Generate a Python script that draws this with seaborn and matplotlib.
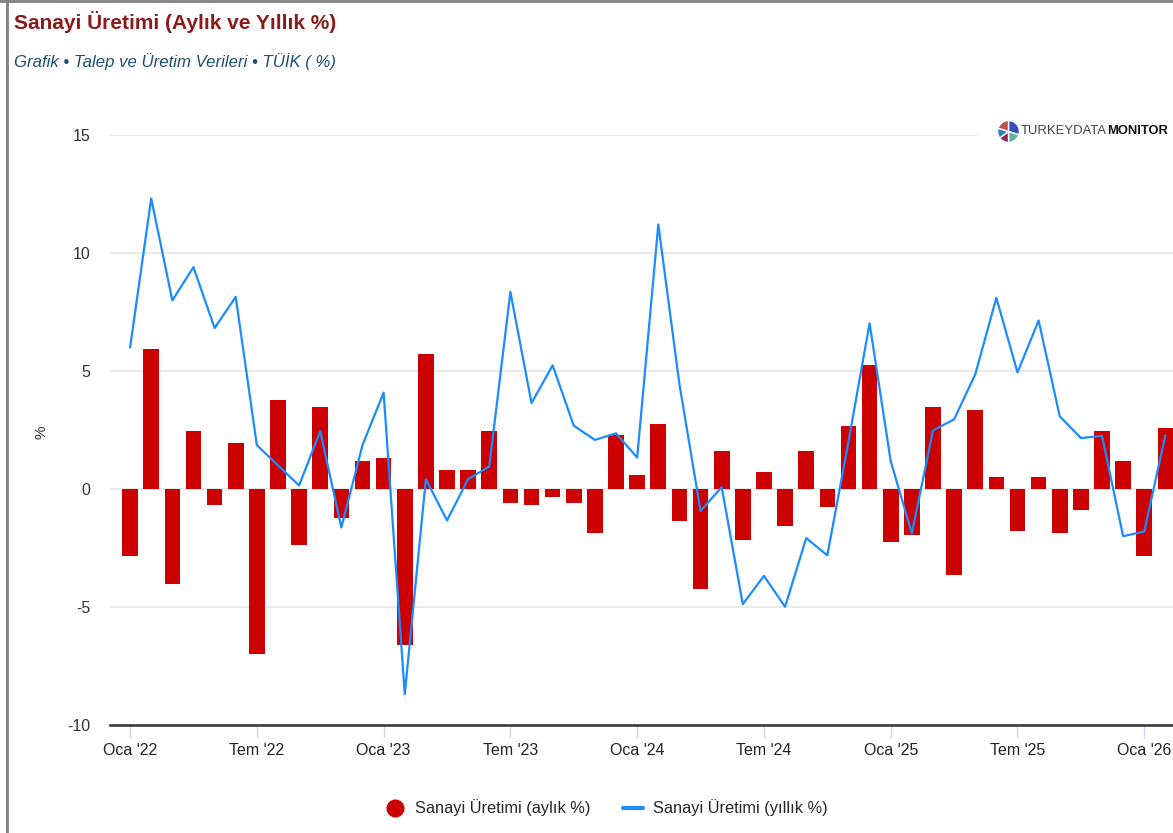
import matplotlib
matplotlib.use("Agg")
import matplotlib.pyplot as plt
import seaborn as sns
import numpy as np
import pandas as pd
from matplotlib.lines import Line2D
from matplotlib.patches import Rectangle

# ---- data ----
months = ["Oca '22", "Şub '22", "Mar '22", "Nis '22", "May '22", "Haz '22",
          "Tem '22", "Ağu '22", "Eyl '22", "Eki '22", "Kas '22", "Ara '22",
          "Oca '23", "Şub '23", "Mar '23", "Nis '23", "May '23", "Haz '23",
          "Tem '23", "Ağu '23", "Eyl '23", "Eki '23", "Kas '23", "Ara '23",
          "Oca '24", "Şub '24", "Mar '24", "Nis '24", "May '24", "Haz '24",
          "Tem '24", "Ağu '24", "Eyl '24", "Eki '24", "Kas '24", "Ara '24",
          "Oca '25", "Şub '25", "Mar '25", "Nis '25", "May '25", "Haz '25",
          "Tem '25", "Ağu '25", "Eyl '25", "Eki '25", "Kas '25", "Ara '25",
          "Oca '26", "Şub '26"]
monthly = [-2.83, 5.94, -4.04, 2.45, -0.68, 1.93, -7.0, 3.78, -2.38, 3.48, -1.21, 1.18,
           1.33, -6.62, 5.72, 0.82, 0.82, 2.45, -0.6, -0.68, -0.32, -0.6, -1.88, 2.28,
           0.58, 2.75, -1.35, -4.24, 1.61, -2.18, 0.73, -1.55, 1.61, -0.75, 2.68, 5.27,
           -2.25, -1.96, 3.48, -3.66, 3.33, 0.5, -1.8, 0.5, -1.88, -0.9, 2.45, 1.18,
           -2.83, 2.6]
yearly = [5.99, 12.31, 7.99, 9.4, 6.82, 8.14, 1.86, 1.0, 0.15, 2.45, -1.63, 1.86,
          4.08, -8.7, 0.42, -1.33, 0.42, 0.95, 8.35, 3.64, 5.24, 2.68, 2.08, 2.36,
          1.33, 11.21, 4.44, -0.93, 0.08, -4.88, -3.68, -4.99, -2.08, -2.81, 2.0, 7.02,
          1.18, -1.88, 2.48, 2.95, 4.86, 8.1, 4.94, 7.14, 3.08, 2.16, 2.25, -2.0,
          -1.8, 2.28]
tick_pos = [0, 6, 12, 18, 24, 30, 36, 42, 48]
tick_labels = ["Oca '22", "Tem '22", "Oca '23", "Tem '23", "Oca '24",
               "Tem '24", "Oca '25", "Tem '25", "Oca '26"]
y_ticks = [-10, -5, 0, 5, 10, 15]
series_names = ["Sanayi Üretimi (aylık %)", "Sanayi Üretimi (yıllık %)"]

df = pd.DataFrame({"idx": np.arange(len(months)), "ay": months,
                   "aylik": monthly, "yillik": yearly})

RED = "#cc0000"
BLUE = "#1a8cff"

sns.set_theme(style="white")
plt.rcParams["font.family"] = ["Liberation Sans", "DejaVu Sans"]

fig = plt.figure(figsize=(11.73, 8.33), dpi=100)
ax = fig.add_axes([110 / 1173, 1 - 725 / 833, 1 - 110 / 1173, (725 - 135) / 833])

sns.barplot(data=df, x="idx", y="aylik", native_scale=True, width=0.74,
            color=RED, saturation=1, linewidth=0, ax=ax, zorder=2)
sns.lineplot(data=df, x="idx", y="yillik", color=BLUE, linewidth=1.6, ax=ax,
             zorder=3)

ax.set_xlim(-0.95, 49.36)
ax.set_ylim(-10, 15)
ax.set_yticks(y_ticks)
ax.set_yticklabels([str(v) for v in y_ticks], fontsize=11.5, color="#333333")
ax.set_xticks(tick_pos)
ax.set_xticklabels(tick_labels, fontsize=11.5, color="#222222")
ax.tick_params(axis="x", length=9, width=1, color="#ccd6eb", pad=4, direction="out",
               bottom=True)
ax.tick_params(axis="y", length=0, pad=14)

for v in y_ticks[1:]:
    ax.axhline(v, color="#e6e6e6", linewidth=1.2, zorder=1)
for s in ["top", "right", "left"]:
    ax.spines[s].set_visible(False)
ax.spines["bottom"].set_color("#333333")
ax.spines["bottom"].set_linewidth(1.8)
ax.set_xlabel("")
ax.set_ylabel("")
fig.text(42 / 1173, 1 - 432 / 833, "%", rotation=90, fontsize=11, color="#333333",
         ha="center", va="center")

# Titles
fig.text(14 / 1173, 1 - 22 / 833, "Sanayi Üretimi (Aylık ve Yıllık %)",
         fontsize=15, fontweight="bold", color="#8b1a1a", va="center", ha="left")
fig.text(14 / 1173, 1 - 62 / 833, "Grafik • Talep ve Üretim Verileri • TÜİK ( %)",
         fontsize=12.1, style="italic", color="#1d4f73", va="center", ha="left")

# Logo (white backing, pie icon, wordmark)
fig.add_artist(Rectangle((977 / 1173, 1 - 147 / 833), 196 / 1173, 32 / 833,
                         transform=fig.transFigure, facecolor="white",
                         edgecolor="none", zorder=5))
pax = fig.add_axes([997 / 1173, 1 - 143 / 833, 23 / 1173, 23 / 833], zorder=6)
pax.pie([30, 20, 15, 15, 20], colors=["#3b4cc0", "#5fb3a3", "#8a2a5a", "#2f7fb8", "#c0504d"],
        startangle=90, counterclock=False, radius=1)
pax.set_xlim(-1.05, 1.05)
pax.set_ylim(-1.05, 1.05)
pax.set_aspect("equal")
pax.axis("off")
t1 = fig.text(1021 / 1173, 1 - 131 / 833, "TURKEYDATA", fontsize=9.4, color="#444444",
              va="center", ha="left", zorder=7)
fig.add_artist(matplotlib.text.Annotation(
    "MONITOR", xy=(1.0, 0.5), xycoords=t1, xytext=(0, 0), textcoords="offset points",
    fontsize=9.4, color="#111111", fontweight="bold", va="center", ha="left",
    zorder=7))

# Legend
handles = [Line2D([0], [0], marker="o", color="none", markerfacecolor=RED,
                  markeredgecolor=RED, markersize=12),
           Line2D([0], [0], color=BLUE, linewidth=3)]
fig.legend(handles, series_names, loc="center", bbox_to_anchor=(0.517, 1 - 808 / 833),
           ncol=2, frameon=False, prop={"size": 11.8},
           handlelength=1.2, handletextpad=0.6, columnspacing=2.0)

# Border
fig.add_artist(Line2D([7 / 1173, 7 / 1173], [0, 1], color="#808080", linewidth=2,
                      transform=fig.transFigure))
fig.add_artist(Line2D([0, 1], [1 - 1 / 833, 1 - 1 / 833], color="#808080", linewidth=2,
                      transform=fig.transFigure))

fig.savefig("out.png", dpi=100)
